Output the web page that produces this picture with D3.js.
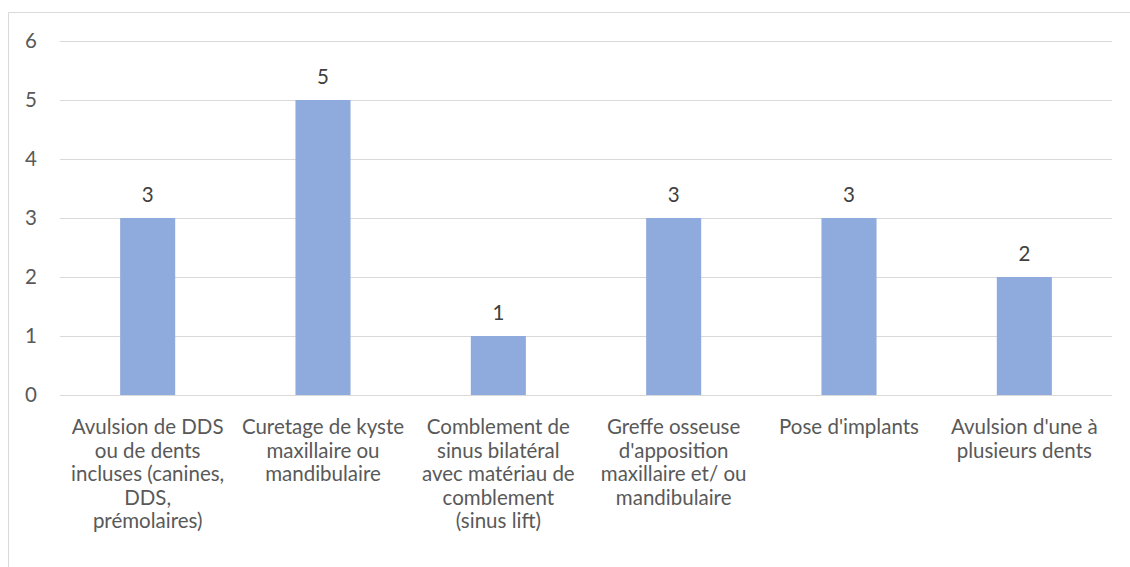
<!DOCTYPE html>
<html>
<head>
<meta charset="utf-8">
<script src="https://cdn.jsdelivr.net/npm/d3@7"></script>
<style>
body { margin: 0; background: #fff; }
svg { display: block; font-family: Lato, "Open Sans", sans-serif; }
</style>
</head>
<body>
<script>
var categories = [
	"Avulsion de DDS\nou de dents\nincluses (canines,\nDDS,\nprémolaires)",
	"Curetage de kyste\nmaxillaire ou\nmandibulaire",
	"Comblement de\nsinus bilatéral\navec matériau de\ncomblement\n(sinus lift)",
	"Greffe osseuse\nd'apposition\nmaxillaire et/ ou\nmandibulaire",
	"Pose d'implants",
	"Avulsion d'une à\nplusieurs dents"
];
var values = [3, 5, 1, 3, 3, 2];
var yTicks = [0, 1, 2, 3, 4, 5, 6];

var width = 1130, height = 567;
var barcolor = "#8faadc";
var textcolor = "#595959";
var fontSize = 20.5;

var svg = d3.select("body").append("svg").attr("width", width).attr("height", height);

// chart frame (only left and top edges are in view)
svg.append("path")
	.attr("d", "M8.5," + height + "V12.5H" + width)
	.attr("fill", "none").attr("stroke", "#d9d9d9").attr("stroke-width", 1);

var x = d3.scaleBand().domain(d3.range(categories.length))
	.range([60, 1112]).paddingInner(0.686).paddingOuter(0.343);
var y = d3.scaleLinear().domain([0, 6]).range([395, 41]);

//Gridlines
svg.append("g").selectAll("line").data(yTicks).enter().append("line")
	.attr("x1", 60).attr("x2", 1112)
	.attr("y1", function(d) { return Math.round(y(d)) + 0.5; })
	.attr("y2", function(d) { return Math.round(y(d)) + 0.5; })
	.attr("stroke", "#d9d9d9").attr("stroke-width", 1);

//Y tick labels
svg.append("g").selectAll("text").data(yTicks).enter().append("text")
	.attr("x", 37).attr("y", function(d) { return y(d); })
	.attr("dy", "0.35em").attr("text-anchor", "end")
	.attr("font-size", fontSize).attr("fill", textcolor)
	.text(function(d) { return d; });

//Bars
svg.append("g").selectAll("rect").data(values).enter().append("rect")
	.attr("x", function(d, i) { return x(i); })
	.attr("y", function(d) { return y(d); })
	.attr("width", x.bandwidth())
	.attr("height", function(d) { return y(0) - y(d); })
	.attr("fill", barcolor);

//Value labels
svg.append("g").selectAll("text").data(values).enter().append("text")
	.attr("x", function(d, i) { return x(i) + x.bandwidth() / 2; })
	.attr("y", function(d) { return y(d) - 23; })
	.attr("dy", "0.35em").attr("text-anchor", "middle")
	.attr("font-size", fontSize).attr("fill", "#404040")
	.text(function(d) { return d; });

//Category labels
var catText = svg.append("g").selectAll("text").data(categories).enter().append("text")
	.attr("x", function(d, i) { return x(i) + x.bandwidth() / 2; })
	.attr("y", 427)
	.attr("text-anchor", "middle")
	.attr("font-size", fontSize).attr("fill", textcolor);
catText.selectAll("tspan").data(function(d) { return d.split("\n"); }).enter().append("tspan")
	.attr("x", function() { return d3.select(this.parentNode).attr("x"); })
	.attr("dy", function(d, i) { return i === 0 ? "0.35em" : 23.5; })
	.text(function(d) { return d; });
</script>
</body>
</html>
